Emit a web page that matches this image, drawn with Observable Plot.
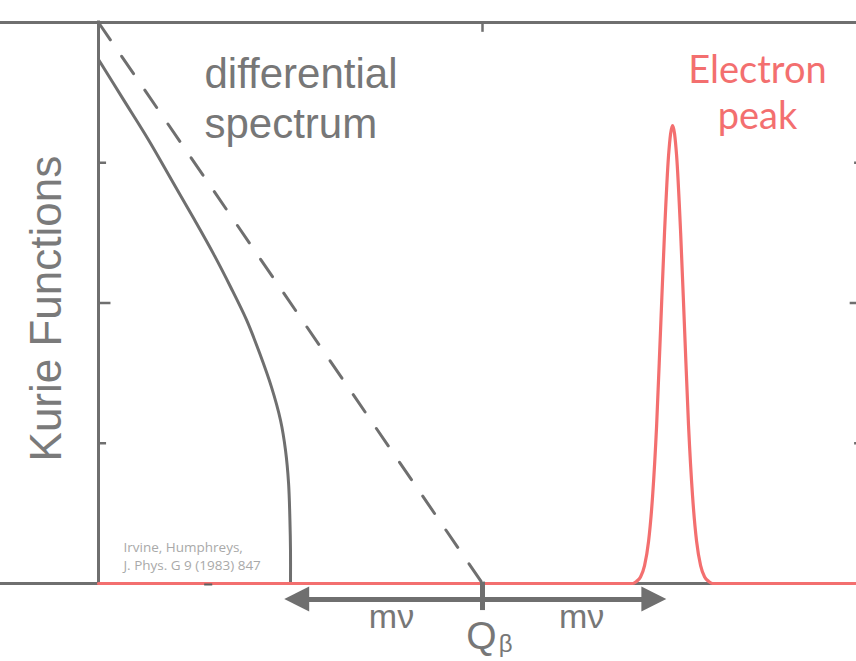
<!DOCTYPE html>
<html>
<head>
<meta charset="utf-8">
<script src="https://cdn.jsdelivr.net/npm/d3@7"></script>
<script src="https://cdn.jsdelivr.net/npm/@observablehq/plot@0.6"></script>
<style>
  html, body { margin: 0; padding: 0; background: #ffffff; }
  #chart svg { display: block; }
</style>
</head>
<body>
<div id="chart"></div>
<script>
// Energy measured from the endpoint Qβ, in units of the neutrino mass mν.
const qBeta = 0;
const yTicks = [1, 2, 3];

// Kurie plot for a massless neutrino: a straight line ending at Qβ.
const masslessX = [-2, 0];
const masslessY = [4, 0];

// Kurie plot for a massive neutrino: bends down and ends at Qβ − mν.
const massiveX = [-2.000, -1.870, -1.740, -1.620, -1.500, -1.401, -1.312, -1.229,
                  -1.161, -1.099, -1.052, -1.026, -1.010, -1.003, -1.000, -1.000];
const massiveY = [3.736, 3.450, 3.164, 2.879, 2.593, 2.350, 2.114, 1.879,
                  1.643, 1.400, 1.164, 0.950, 0.714, 0.450, 0.236, 0];

// Electron peak sitting at Qβ + mν on a flat baseline.
const peakX = [-2.000, 0.782, 0.802, 0.823, 0.844, 0.865, 0.886, 0.907, 0.927, 0.948, 0.969,
               0.990, 1.011, 1.032, 1.053, 1.073, 1.094, 1.115, 1.136, 1.157, 1.178, 1.198, 1.980];
const peakY = [0, 0, 0.015, 0.047, 0.128, 0.301, 0.624, 1.129, 1.796, 2.500, 3.050,
               3.265, 3.050, 2.500, 1.796, 1.129, 0.624, 0.301, 0.128, 0.047, 0.015, 0, 0];

// Arrows marking mν on either side of Qβ.
const arrowTips = [-1.03, 0.96];

const grey = "#6f6f6f";
const red = "#f36f6f";
const xMax = 1.98;
const arrowY = -0.114;
const headLen = 0.13, headHalf = 0.089;

const massless = masslessX.map((x, i) => ({x, y: masslessY[i]}));
const massive = massiveX.map((x, i) => ({x, y: massiveY[i]}));
const peak = peakX.map((x, i) => ({x, y: peakY[i]}));
const heads = arrowTips.flatMap((tip, i) => {
  const dir = Math.sign(tip - qBeta);
  return [
    {k: i, x: tip, y1: arrowY, y2: arrowY},
    {k: i, x: tip - dir * headLen, y1: arrowY - headHalf, y2: arrowY + headHalf}
  ];
});

const sans = "Liberation Sans, Arial, sans-serif";

const chart = Plot.plot({
  width: 856,
  height: 661,
  x: {domain: [-2, xMax], range: [98, 482 + xMax * 192], axis: null},
  y: {domain: [0, 4], range: [583, 22], axis: null},
  style: {background: "#ffffff"},
  marks: [
    // frame
    Plot.ruleY([0], {stroke: grey, strokeWidth: 3}),
    Plot.ruleY([4], {stroke: grey, strokeWidth: 3, strokeLinecap: "square"}),
    Plot.ruleX([-2], {y1: 0, y2: 4, stroke: grey, strokeWidth: 3, strokeLinecap: "square"}),
    Plot.ruleX([xMax], {y1: 0, y2: 4, stroke: grey, strokeWidth: 3}),
    // inward ticks
    Plot.ruleY(yTicks, {x1: -2, x2: d => -2 + (d === 2 ? 0.065 : 0.042), stroke: grey, strokeWidth: 2.5}),
    Plot.ruleY(yTicks, {x1: d => xMax - (d === 2 ? 0.065 : 0.042), x2: xMax, stroke: grey, strokeWidth: 2.5}),
    Plot.ruleX([qBeta], {y1: 4, y2: 3.93, stroke: grey, strokeWidth: 2.5}),

    // spectra
    Plot.line(massless, {x: "x", y: "y", stroke: grey, strokeWidth: 3, strokeDasharray: "21,20"}),
    Plot.line(massive, {x: "x", y: "y", stroke: grey, strokeWidth: 3, curve: "catmull-rom"}),
    Plot.line(peak, {x: "x", y: "y", stroke: red, strokeWidth: 3.2, curve: "monotone-x"}),

    // small bottom tick showing through the baseline
    Plot.ruleY([0], {x1: -1.447, x2: -1.405, dy: 1, stroke: "#5e5e5e", strokeWidth: 2}),

    // mν arrows and the Qβ marker
    Plot.link(arrowTips, {
      x1: qBeta, x2: d => d - Math.sign(d - qBeta) * (headLen - 0.01),
      y1: arrowY, y2: arrowY, stroke: grey, strokeWidth: 5
    }),
    Plot.areaY(heads, {x: "x", y1: "y1", y2: "y2", z: "k", fill: grey}),
    Plot.ruleX([qBeta], {y1: 0.01, y2: -0.193, stroke: grey, strokeWidth: 5}),

    // labels
    Plot.text(["mν", "mν"], {
      x: [-0.474, 0.516], y: -0.314, text: d => d,
      fontFamily: sans, fontSize: 34, fill: "#777777",
      textAnchor: "middle", lineAnchor: "bottom"
    }),
    Plot.text(["Q"], {
      x: -0.005, y: -0.464, fontFamily: sans, fontSize: 39,
      fill: "#777777", textAnchor: "middle", lineAnchor: "bottom"
    }),
    Plot.text(["β"], {
      x: 0.085, y: -0.49, fontFamily: sans, fontSize: 24,
      fill: "#777777", textAnchor: "start", lineAnchor: "bottom"
    }),
    Plot.text(["differential\nspectrum"], {
      x: -1.448, y: 3.179, fontFamily: sans, fontSize: 42,
      lineHeight: 1.19, fill: "#777777", textAnchor: "start", lineAnchor: "bottom"
    }),
    Plot.text(["Electron\npeak"], {
      x: 1.432, y: 3.243, fontFamily: "Lato, sans-serif", fontSize: 38,
      lineHeight: 1.21, fill: red, textAnchor: "middle", lineAnchor: "bottom"
    }),
    Plot.text(["Kurie Functions"], {
      x: -2, y: 1.96, dx: -52, rotate: -90, fontFamily: sans,
      fontSize: 44, fill: "#7a7a7a", textAnchor: "middle", lineAnchor: "middle"
    }),
    Plot.text(["Irvine, Humphreys,\nJ. Phys. G 9 (1983) 847"], {
      x: -1.870, y: 0.093, fontFamily: "Open Sans, sans-serif", fontSize: 13.5,
      lineHeight: 1.35, fill: "#a9a9a9", textAnchor: "start", lineAnchor: "bottom"
    })
  ]
});

document.getElementById("chart").appendChild(chart);
</script>
</body>
</html>
